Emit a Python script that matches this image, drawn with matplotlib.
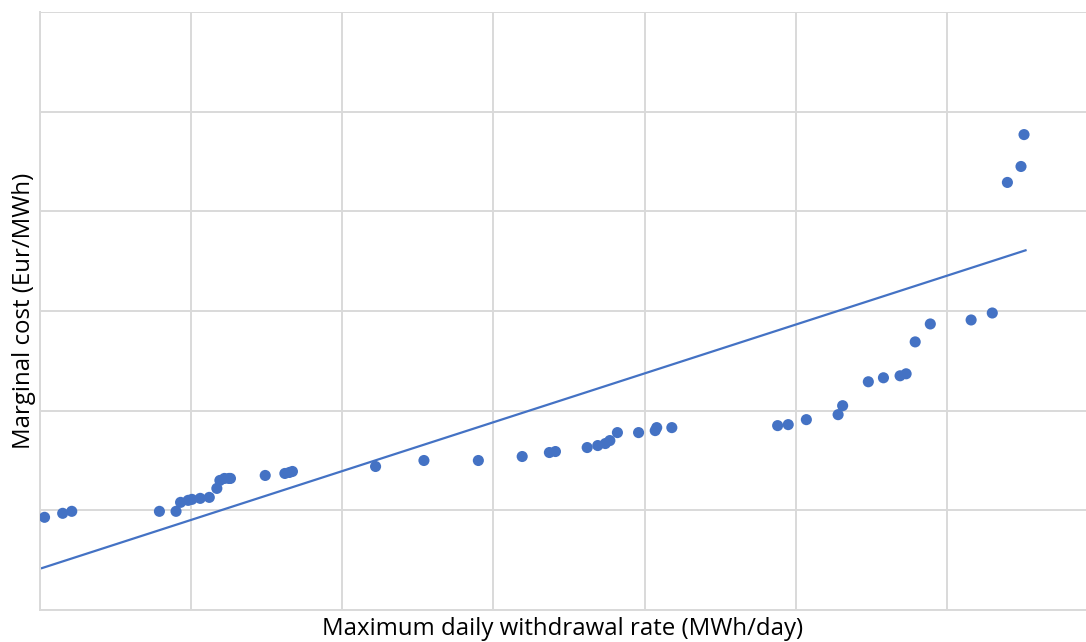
import matplotlib
matplotlib.use("Agg")
import matplotlib.pyplot as plt
import numpy as np

# withdrawal rate (grid units, no tick labels shown on the chart)
withdrawal_rate = [0.03, 0.15, 0.21, 0.79, 0.90, 0.93, 0.98, 1.005, 1.06, 1.12,
                   1.17, 1.19, 1.22, 1.25, 1.26, 1.49, 1.62, 1.65, 1.67, 2.22,
                   2.54, 2.90, 3.19, 3.37, 3.41, 3.62, 3.69, 3.74, 3.77, 3.82,
                   3.96, 4.07, 4.08, 4.18, 4.88, 4.95, 5.07, 5.28, 5.31, 5.48,
                   5.58, 5.69, 5.73, 5.79, 5.89, 6.16, 6.30, 6.40, 6.49, 6.51]
# marginal cost (grid units)
marginal_cost = [0.93, 0.97, 0.99, 0.99, 0.99, 1.08, 1.10, 1.11, 1.12, 1.13,
                 1.22, 1.30, 1.32, 1.32, 1.32, 1.35, 1.37, 1.38, 1.39, 1.44,
                 1.50, 1.50, 1.54, 1.58, 1.59, 1.63, 1.65, 1.67, 1.70, 1.78,
                 1.78, 1.80, 1.83, 1.83, 1.85, 1.86, 1.91, 1.96, 2.05, 2.29,
                 2.33, 2.35, 2.37, 2.69, 2.87, 2.91, 2.98, 4.29, 4.45, 4.77]

# linear trendline as drawn on the chart
trend_slope = 0.49
trend_intercept = 0.414
trend_x_range = [0.013, 6.52]

BLUE = "#4472C4"
GRID = "#d9d9d9"

plt.rcParams["font.family"] = ["Open Sans", "DejaVu Sans"]

fig = plt.figure(figsize=(10.86, 6.42), dpi=100)
ax = fig.add_axes([40 / 1086, 32 / 642, 1046 / 1086, 598 / 642])

x = np.array(withdrawal_rate)
y = np.array(marginal_cost)

xt = np.array(trend_x_range)
ax.plot(xt, trend_slope * xt + trend_intercept, color=BLUE, lw=1.6, zorder=2)

ax.scatter(x, y, s=64, color=BLUE, edgecolors="none", zorder=3)

ax.set_xlim(0, 6.92)
ax.set_ylim(0, 6)
ax.set_xticks(np.arange(0, 7, 1))
ax.set_yticks(np.arange(0, 7, 1))
ax.tick_params(length=0, labelbottom=False, labelleft=False)
ax.grid(True, color=GRID, lw=1.4)
ax.set_axisbelow(True)
for side in ["top", "right"]:
    ax.spines[side].set_visible(False)
for side in ["left", "bottom"]:
    ax.spines[side].set_color(GRID)
    ax.spines[side].set_linewidth(1.4)

ax.set_xlabel("Maximum daily withdrawal rate (MWh/day)", fontsize=17.3, labelpad=5)
ax.set_ylabel("Marginal cost (Eur/MWh)", fontsize=17.3, labelpad=3)

fig.savefig("out.png", dpi=100)
